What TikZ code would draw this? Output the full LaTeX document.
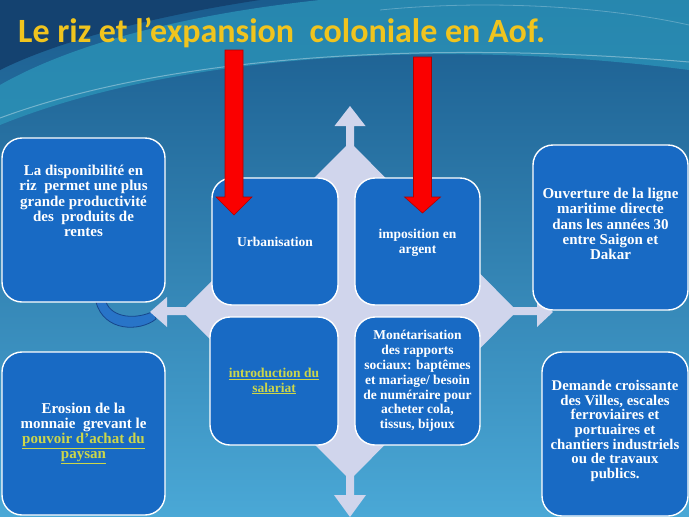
\documentclass[tikz,border=0pt]{standalone}
\usepackage{fontspec}
\setmainfont{Liberation Serif}
\newfontfamily\titlefont{Carlito}
\usepackage{tikz}
\usetikzlibrary{positioning,calc}

\definecolor{bgtop}{RGB}{26,92,142}
\definecolor{bgbot}{RGB}{74,168,214}
\definecolor{bgteal}{RGB}{44,150,186}
\definecolor{bgdark}{RGB}{20,66,112}
\definecolor{boxblue}{RGB}{24,106,196}
\definecolor{crossgrey}{RGB}{208,213,236}
\definecolor{arrowred}{RGB}{250,0,0}
\definecolor{titleyellow}{RGB}{240,196,30}
\definecolor{linkyellow}{RGB}{204,214,74}
\definecolor{hookblue}{RGB}{40,116,200}
\definecolor{hookline}{RGB}{22,70,140}

\newcommand{\redarrow}[3]{%
  \fill[redarrow] (#1-9,#2) -- (#1+9,#2) -- (#1+9,197) -- (#1+18,197)
    -- (#1,#3) -- (#1-18,197) -- (#1-9,197) -- cycle;
}

\begin{document}
\begin{tikzpicture}[
    x=1pt,
    y=-1pt,
    box/.style={draw=white, line width=1.4pt, fill=boxblue,
                rounded corners=20pt, inner sep=2pt},
    boxtext/.style={align=center, text=white,
                    font=\bfseries\fontsize{15}{15.2}\selectfont},
    midtext/.style={align=center, text=white,
                    font=\bfseries\fontsize{13.5}{14.8}\selectfont},
    crossfill/.style={fill=crossgrey},
    redarrow/.style={fill=arrowred, draw=arrowred!70!black, line width=0.6pt},
    title/.style={font=\titlefont\bfseries\fontsize{34}{38}\selectfont,
                  text=titleyellow, anchor=base west, inner sep=0pt},
]
\useasboundingbox (0,0) rectangle (689,517);
% background
\shade[top color=bgtop, bottom color=bgbot] (0,0) rectangle (689,517);
\fill[bgdark] (0,0) -- (260,0) .. controls (160,15) and (60,40) .. (0,70) -- cycle;
\fill[bgteal, opacity=0.75] (0,125) .. controls (160,60) and (420,35) .. (689,70)
  -- (689,0) -- (320,0) .. controls (180,15) and (70,45) .. (0,85) -- cycle;
\draw[white, opacity=0.35, line width=1pt] (0,118) .. controls (170,55) and (430,40) .. (689,62);
\draw[white, opacity=0.25, line width=0.8pt] (380,10) .. controls (480,0) and (600,5) .. (689,25);

% blue hook under the first box
\filldraw[fill=hookblue, draw=hookline, line width=0.8pt]
  (96,302) .. controls (104,332) and (140,332) .. (156,319)
  -- (154,311) .. controls (136,320) and (112,318) .. (106,302) -- cycle;

% central cross
\fill[crossfill] (350,142) -- (517,311) -- (350,480) -- (182,311) -- cycle;
\fill[crossfill] (346,150) -- (346,126) -- (334.5,126) -- (350,106)
  -- (365.5,126) -- (354,126) -- (354,150) -- cycle;
\fill[crossfill] (346,470) -- (346,495) -- (334,495) -- (350,517)
  -- (366,495) -- (354,495) -- (354,470) -- cycle;
\fill[crossfill] (190,307) -- (167,307) -- (167,297) -- (150,312)
  -- (167,327) -- (167,315) -- (190,315) -- cycle;
\fill[crossfill] (510,307) -- (537,307) -- (537,297) -- (553,312)
  -- (537,327) -- (537,315) -- (510,315) -- cycle;

% boxes
\node[box, minimum width=163pt, minimum height=164pt] (dispo) at (83.5,220) {};
\node[boxtext] (dispotxt) at (83.5,201)
  {La disponibilité en\\riz~ permet une plus\\grande productivité\\des~ produits de\\rentes};
\node[box, minimum width=163pt, minimum height=163pt] (erosion) at (83.5,433.5) {};
\node[boxtext] (erosiontxt) at (erosion.center)
  {Erosion de la\\monnaie~ grevant le\\
   \textcolor{linkyellow}{\underline{pouvoir d'achat du}}\\
   \textcolor{linkyellow}{\underline{paysan}}};
\node[box, minimum width=126pt, minimum height=127pt] (urban) at (275,241.5) {};
\node[midtext] (urbantxt) at (urban.center) {Urbanisation};
\node[box, minimum width=125pt, minimum height=127pt] (impos) at (417.5,241.5) {};
\node[midtext] (impostxt) at ([yshift=-1pt]impos.center) {imposition en\\argent};
\node[box, minimum width=128pt, minimum height=128pt] (salariat) at (274,381) {};
\node[midtext, text=linkyellow] (salariattxt) at (salariat.center)
  {\underline{introduction du}\\\underline{salariat}};
\node[box, minimum width=125pt, minimum height=128pt] (monet) at (417.5,381) {};
\node[midtext] (monettxt) at (monet.center)
  {Monétarisation\\des rapports\\sociaux: baptêmes\\et mariage/ besoin\\de numéraire pour\\acheter cola,\\tissus, bijoux};
\node[box, minimum width=155pt, minimum height=165pt] (ligne) at (610.5,227.5) {};
\node[boxtext] (lignetxt) at (610.5,224)
  {Ouverture de la ligne\\maritime directe\\dans les années 30\\entre Saigon et\\Dakar};
\node[box, minimum width=146pt, minimum height=164pt] (demande) at (615,434) {};
\node[boxtext, font=\bfseries\fontsize{14.8}{14.6}\selectfont] (demandetxt) at (615,431)
  {Demande croissante\\des Villes, escales\\ferroviaires et\\portuaires et\\chantiers industriels\\ou de travaux\\publics.};

% red arrows
\redarrow{234}{50}{215}
\redarrow{422.5}{57}{213}

% title
\node[title] (titre) at (18,42) {Le riz et l’expansion~ coloniale en Aof.};
\end{tikzpicture}
\end{document}
